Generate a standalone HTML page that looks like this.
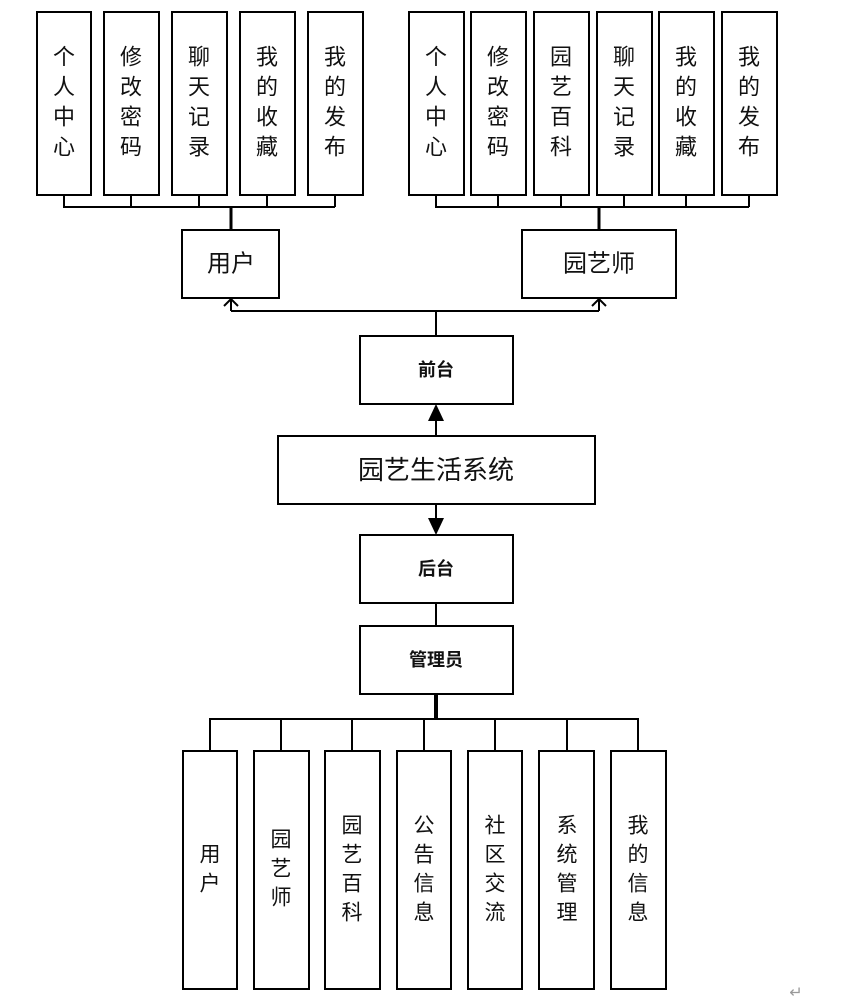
<!DOCTYPE html>
<html><head><meta charset="utf-8"><style>
html,body{margin:0;padding:0;background:#fff;}
svg{display:block}
text{font-family:"Liberation Sans","Noto Sans CJK SC",sans-serif;fill:#111;text-anchor:middle;dominant-baseline:central}
</style></head><body>
<svg width="863" height="1004" viewBox="0 0 863 1004" xmlns="http://www.w3.org/2000/svg">
<g fill="#fff" stroke="#000" stroke-width="2">
<rect x="37" y="12" width="54" height="183"/>
<rect x="104" y="12" width="55" height="183"/>
<rect x="172" y="12" width="55" height="183"/>
<rect x="240" y="12" width="55" height="183"/>
<rect x="308" y="12" width="55" height="183"/>
<rect x="409" y="12" width="55" height="183"/>
<rect x="471" y="12" width="55" height="183"/>
<rect x="534" y="12" width="55" height="183"/>
<rect x="597" y="12" width="55" height="183"/>
<rect x="659" y="12" width="55" height="183"/>
<rect x="722" y="12" width="55" height="183"/>
<rect x="182" y="230" width="97" height="68"/>
<rect x="522" y="230" width="154" height="68"/>
<rect x="360" y="336" width="153" height="68"/>
<rect x="278" y="436" width="317" height="68"/>
<rect x="360" y="535" width="153" height="68"/>
<rect x="360" y="626" width="153" height="68"/>
<rect x="183" y="751" width="54" height="238"/>
<rect x="254" y="751" width="55" height="238"/>
<rect x="325" y="751" width="55" height="238"/>
<rect x="397" y="751" width="54" height="238"/>
<rect x="468" y="751" width="54" height="238"/>
<rect x="539" y="751" width="55" height="238"/>
<rect x="611" y="751" width="55" height="238"/>
</g>
<g fill="none" stroke="#000" stroke-width="2">
<path d="M64 195V207H335M131 195V207M199 195V207M267 195V207M335 195V207"/>
<path d="M231 207V230" stroke-width="3"/>
<path d="M436 195V207H749M498 195V207M561 195V207M624 195V207M686 195V207M749 195V207"/>
<path d="M599 207V230" stroke-width="3"/>
<path d="M436 336V311M231 311H599M231 311V299M599 311V299"/>
<path d="M224 306L231 299L238 306M592 306L599 299L606 306"/>
<path d="M436 436V420M436 504V520M436 603V626"/>
<path d="M436 694V719" stroke-width="4"/>
<path d="M210 751V719H638V751M281 719V751M352 719V751M424 719V751M495 719V751M567 719V751"/>
</g>
<path d="M436 404L444 421H428Z" fill="#000"/>
<path d="M436 535L444 518H428Z" fill="#000"/>
<g font-size="22">
<text x="64" y="57">个</text><text x="64" y="87">人</text><text x="64" y="117">中</text><text x="64" y="147">心</text>
<text x="131" y="57">修</text><text x="131" y="87">改</text><text x="131" y="117">密</text><text x="131" y="147">码</text>
<text x="199" y="57">聊</text><text x="199" y="87">天</text><text x="199" y="117">记</text><text x="199" y="147">录</text>
<text x="267" y="57">我</text><text x="267" y="87">的</text><text x="267" y="117">收</text><text x="267" y="147">藏</text>
<text x="335" y="57">我</text><text x="335" y="87">的</text><text x="335" y="117">发</text><text x="335" y="147">布</text>
<text x="436" y="57">个</text><text x="436" y="87">人</text><text x="436" y="117">中</text><text x="436" y="147">心</text>
<text x="498" y="57">修</text><text x="498" y="87">改</text><text x="498" y="117">密</text><text x="498" y="147">码</text>
<text x="561" y="57">园</text><text x="561" y="87">艺</text><text x="561" y="117">百</text><text x="561" y="147">科</text>
<text x="624" y="57">聊</text><text x="624" y="87">天</text><text x="624" y="117">记</text><text x="624" y="147">录</text>
<text x="686" y="57">我</text><text x="686" y="87">的</text><text x="686" y="117">收</text><text x="686" y="147">藏</text>
<text x="749" y="57">我</text><text x="749" y="87">的</text><text x="749" y="117">发</text><text x="749" y="147">布</text>
</g>
<text x="231" y="264" font-size="24">用户</text>
<text x="599" y="264" font-size="24">园艺师</text>
<text x="436" y="370" font-size="18" font-weight="bold">前台</text>
<text x="436" y="470" font-size="26">园艺生活系统</text>
<text x="436" y="569" font-size="18" font-weight="bold">后台</text>
<text x="436" y="660" font-size="18" font-weight="bold">管理员</text>
<g font-size="21">
<text x="210" y="855">用</text><text x="210" y="884">户</text>
<text x="281" y="840">园</text><text x="281" y="869">艺</text><text x="281" y="898">师</text>
<text x="352" y="826">园</text><text x="352" y="855">艺</text><text x="352" y="884">百</text><text x="352" y="913">科</text>
<text x="424" y="826">公</text><text x="424" y="855">告</text><text x="424" y="884">信</text><text x="424" y="913">息</text>
<text x="495" y="826">社</text><text x="495" y="855">区</text><text x="495" y="884">交</text><text x="495" y="913">流</text>
<text x="567" y="826">系</text><text x="567" y="855">统</text><text x="567" y="884">管</text><text x="567" y="913">理</text>
<text x="638" y="826">我</text><text x="638" y="855">的</text><text x="638" y="884">信</text><text x="638" y="913">息</text>
</g>
<text x="796" y="993" font-size="16" style="fill:#999">↵</text>
</svg>
</body></html>
